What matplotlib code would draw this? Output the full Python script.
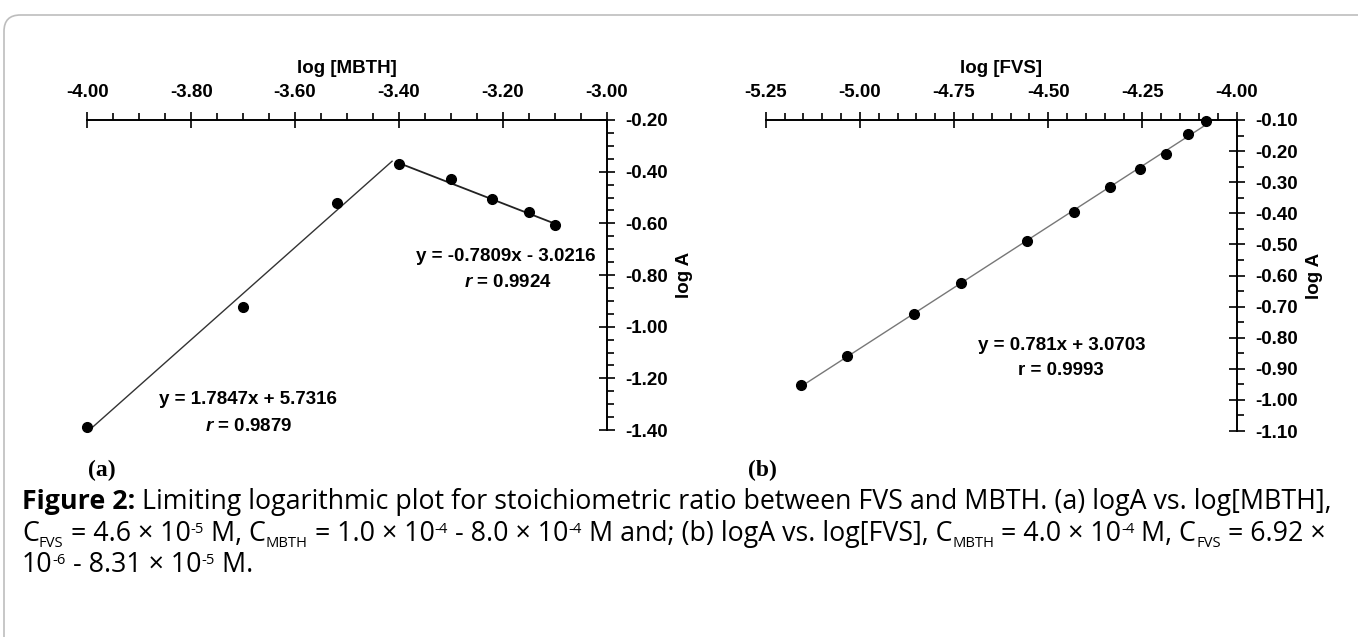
import numpy as np
import matplotlib
matplotlib.use("Agg")
import matplotlib.pyplot as plt
from matplotlib.patches import FancyBboxPatch
from matplotlib.ticker import MultipleLocator

plt.rcParams["font.family"] = ["Liberation Sans", "DejaVu Sans"]
plt.rcParams["axes.unicode_minus"] = False
plt.rcParams["mathtext.fontset"] = "custom"
plt.rcParams["mathtext.it"] = "Liberation Sans:italic:bold"
plt.rcParams["mathtext.rm"] = "Liberation Sans:bold"

# panel (a): log A vs log [MBTH]
mbth_x = [-4.00, -3.70, -3.52, -3.40, -3.30, -3.22, -3.15, -3.10]
mbth_y = [-1.39, -0.925, -0.522, -0.372, -0.430, -0.504, -0.558, -0.605]
fit1 = (1.7847, 5.7316)      # rising branch
fit1_range = (-4.00, -3.413)
fit2 = (-0.7809, -3.0216)    # falling branch
fit2_range = (-3.398, -3.097)

# panel (b): log A vs log [FVS]
fvs_x = [-5.156, -5.034, -4.856, -4.731, -4.555, -4.432, -4.336, -4.257, -4.188, -4.130, -4.081]
fvs_y = [-0.952, -0.859, -0.724, -0.624, -0.490, -0.397, -0.314, -0.259, -0.209, -0.146, -0.102]

xticks_a = [-4.00, -3.80, -3.60, -3.40, -3.20, -3.00]
yticks_a = [-0.20, -0.40, -0.60, -0.80, -1.00, -1.20, -1.40]
xticks_b = [-5.25, -5.00, -4.75, -4.50, -4.25, -4.00]
yticks_b = [-0.10, -0.20, -0.30, -0.40, -0.50, -0.60, -0.70, -0.80, -0.90, -1.00, -1.10]

# caption, as runs of (text, kind): n = normal, b = bold, sub / sup
caption_lines = [
    [("Figure 2:", "b"),
     (" Limiting logarithmic plot for stoichiometric ratio between FVS and MBTH. "
      "(a) logA vs. log[MBTH],", "n")],
    [("C", "n"), ("FVS", "sub"), (" = 4.6 × 10", "n"), ("-5", "sup"),
     (" M, C", "n"), ("MBTH", "sub"), (" = 1.0 × 10", "n"), ("-4", "sup"),
     (" - 8.0 × 10", "n"), ("-4", "sup"),
     (" M and; (b) logA vs. log[FVS], C", "n"), ("MBTH", "sub"),
     (" = 4.0 × 10", "n"), ("-4", "sup"), (" M, C", "n"), ("FVS", "sub"),
     (" = 6.92 ×", "n")],
    [("10", "n"), ("-6", "sup"), (" - 8.31 × 10", "n"), ("-5", "sup"), (" M.", "n")],
]

W, H = 1358, 637
FS = 13.5
fig = plt.figure(figsize=(W / 100, H / 100), dpi=100)


def px_axes(x0, x1, y0, y1):
    # pixel box (from top-left) -> figure axes
    return fig.add_axes([x0 / W, 1 - y1 / H, (x1 - x0) / W, (y1 - y0) / H])


def style_axes(ax, xticks, yticks, minor_x, minor_y, xlabel):
    for s in ["left", "bottom"]:
        ax.spines[s].set_visible(False)
    for s in ["top", "right"]:
        ax.spines[s].set_linewidth(1.4)
    ax.set_facecolor("none")
    ax.xaxis.tick_top()
    ax.yaxis.tick_right()
    ax.set_xticks(xticks)
    ax.set_xticklabels([f"{v:.2f}" for v in xticks])
    ax.set_yticks(yticks)
    ax.set_yticklabels([f"{v:.2f}" for v in yticks])
    ax.xaxis.set_minor_locator(MultipleLocator(minor_x))
    ax.yaxis.set_minor_locator(MultipleLocator(minor_y))
    ax.tick_params(which="major", direction="inout", length=11, width=1.2,
                   labelsize=FS, pad=8)
    ax.tick_params(which="minor", direction="out", length=5, width=1.2)
    for lab in ax.get_xticklabels() + ax.get_yticklabels():
        lab.set_fontweight("bold")
    ax.xaxis.set_label_position("top")
    ax.set_xlabel(xlabel, fontsize=FS, fontweight="bold", labelpad=8)
    ax.yaxis.set_label_position("right")
    ax.set_ylabel("log A", fontsize=FS, fontweight="bold", labelpad=6)


# ---- panel (a)
axa = px_axes(87.3, 606.5, 120, 430)
axa.set_xlim(-4.0, -3.0)
axa.set_ylim(-1.40, -0.20)
xa = np.linspace(*fit1_range, 50)
axa.plot(xa, fit1[0] * xa + fit1[1], color="#333333", lw=1.0)
xb = np.linspace(*fit2_range, 50)
axa.plot(xb, fit2[0] * xb + fit2[1], color="#222222", lw=1.3)
axa.plot(mbth_x, mbth_y, "o", color="black", ms=7, clip_on=False, zorder=5)
style_axes(axa, xticks_a, yticks_a, 0.05, 0.05, "log [MBTH]")
axa.text(-3.195, -0.73, "y = -0.7809x - 3.0216", ha="center", va="center",
         fontsize=FS, fontweight="bold")
axa.text(-3.19, -0.83, "$r$ = 0.9924", ha="center", va="center",
         fontsize=FS, fontweight="bold")
axa.text(-3.69, -1.28, "y = 1.7847x + 5.7316", ha="center", va="center",
         fontsize=FS, fontweight="bold")
axa.text(-3.69, -1.385, "$r$ = 0.9879", ha="center", va="center",
         fontsize=FS, fontweight="bold")

# ---- panel (b)
axb = px_axes(765.7, 1236.5, 120, 431)
axb.set_xlim(-5.25, -4.00)
axb.set_ylim(-1.10, -0.10)
slope_b, icpt_b = np.polyfit(fvs_x, fvs_y, 1)
xl = np.linspace(min(fvs_x), max(fvs_x), 50)
axb.plot(xl, slope_b * xl + icpt_b, color="#777777", lw=1.0)
axb.plot(fvs_x, fvs_y, "o", color="black", ms=7, clip_on=False, zorder=5)
style_axes(axb, xticks_b, yticks_b, 0.05, 0.05, "log [FVS]")
axb.text(-4.465, -0.826, "y = 0.781x + 3.0703", ha="center", va="center",
         fontsize=FS, fontweight="bold")
axb.text(-4.465, -0.906, "r = 0.9993", ha="center", va="center",
         fontsize=FS, fontweight="bold")

# panel letters
fig.text(88 / W, 1 - 470 / H, "(a)", family="Liberation Serif", fontsize=17,
         fontweight="bold", ha="left", va="center")
fig.text(748 / W, 1 - 470 / H, "(b)", family="Liberation Serif", fontsize=17,
         fontweight="bold", ha="left", va="center")

# outer rounded frame
frame = FancyBboxPatch((4 / W, -0.05), 1.05, 1 - 15 / H + 0.05,
                       boxstyle="round,pad=0,rounding_size=0.012",
                       transform=fig.transFigure, facecolor="none",
                       edgecolor="#bdbdbd", lw=1.2, mutation_aspect=W / H)
fig.patches.append(frame)

# caption: lay the runs out one after another
cap_fs = 19.3
cap_font = "Open Sans"
fig.canvas.draw()
r = fig.canvas.get_renderer()
baselines = [509, 541, 572]
for runs, base in zip(caption_lines, baselines):
    x = 22.0
    for txt, kind in runs:
        size, dy, weight = cap_fs, 0, "normal"
        if kind == "b":
            weight = "bold"
        elif kind == "sub":
            size, dy = cap_fs * 0.55, -6
        elif kind == "sup":
            size, dy = cap_fs * 0.55, 8
        t = fig.text(x / W, 1 - (base - dy) / H, txt, family=cap_font,
                     fontsize=size, fontweight=weight, ha="left", va="baseline")
        x += t.get_window_extent(r).width

fig.savefig("out.png", dpi=100)
